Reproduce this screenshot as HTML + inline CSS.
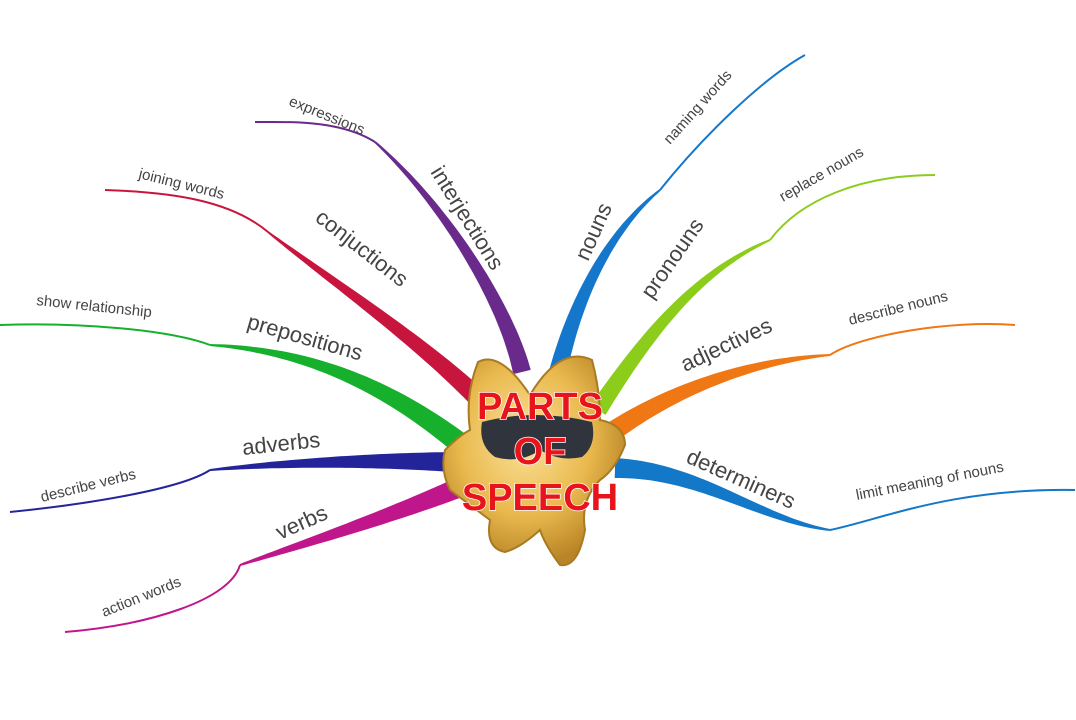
<!DOCTYPE html>
<html><head><meta charset="utf-8"><style>
html,body{margin:0;padding:0;background:#fff;width:1076px;height:720px;overflow:hidden}
svg text{font-family:"Liberation Sans",sans-serif;fill:#444}
</style></head><body>
<svg id="s" width="1076" height="720" viewBox="0 0 1076 720">
<defs>
<radialGradient id="g" cx="45%" cy="40%" r="60%"><stop offset="0" stop-color="#fbe39a"/><stop offset="0.6" stop-color="#e9b94e"/><stop offset="1" stop-color="#b98426"/></radialGradient>
</defs>
<g id="br"></g>
<g font-size="22">
<text transform="translate(430,172) rotate(58)">interjections</text>
<text transform="translate(314,220) rotate(38)">conjuctions</text>
<text transform="translate(246,328) rotate(16)">prepositions</text>
<text transform="translate(243,455) rotate(-6)">adverbs</text>
<text transform="translate(280,540) rotate(-24)">verbs</text>
<text transform="translate(588,262) rotate(-66)">nouns</text>
<text transform="translate(652,300) rotate(-55)">pronouns</text>
<text transform="translate(685,372) rotate(-25)">adjectives</text>
<text transform="translate(685,462) rotate(24)">determiners</text>
</g>
<g font-size="15">
<text transform="translate(288,105) rotate(22)">expressions</text>
<text transform="translate(138,178) rotate(14)">joining words</text>
<text transform="translate(36,305) rotate(6)">show relationship</text>
<text transform="translate(42,502) rotate(-14)">describe verbs</text>
<text transform="translate(104,617) rotate(-22)">action words</text>
<text transform="translate(670,145) rotate(-48)">naming words</text>
<text transform="translate(783,202) rotate(-30)">replace nouns</text>
<text transform="translate(850,325) rotate(-14)">describe nouns</text>
<text transform="translate(857,500) rotate(-11)">limit meaning of nouns</text>
</g>
<g>
<path d="M478,362 Q500,350 530,395 Q560,345 592,360 Q600,390 600,420 Q625,425 625,445 Q615,470 600,480 Q580,500 585,530 Q578,568 560,565 Q545,545 540,530 Q520,548 505,552 Q485,548 490,520 Q470,505 450,490 Q440,470 445,450 Q460,435 470,430 Q465,395 478,362 Z" fill="url(#g)" stroke="#a87a22" stroke-width="2"/>
<path d="M482,422 Q535,408 592,422 Q597,445 582,457 Q560,462 540,450 Q520,464 495,457 Q478,445 482,422 Z" fill="#30353d"/>
</g>
<g font-size="38" font-weight="bold" text-anchor="middle" style="stroke:#fff;stroke-width:1.5;paint-order:stroke">
<text x="540" y="419" style="fill:#e8141b">PARTS</text>
<text x="540" y="464" style="fill:#e8141b">OF</text>
<text x="540" y="510" style="fill:#e8141b">SPEECH</text>
</g>
</svg>
<script>
var B=[
["#6a2a8c",[[522,372],[505,300],[440,200],[375,142]],[[375,142],[340,120],[290,122],[255,122]],18],
["#c8153e",[[485,405],[420,340],[330,280],[268,232]],[[268,232],[230,200],[170,192],[105,190]],20],
["#16b02c",[[462,445],[380,380],[300,350],[210,345]],[[210,345],[170,330],[80,322],[0,325]],22],
["#24249a",[[452,462],[380,460],[290,462],[210,470]],[[210,470],[180,490],[80,505],[10,512]],20],
["#c0168c",[[458,488],[380,520],[300,545],[240,565]],[[240,565],[230,600],[150,625],[65,632]],20],
["#1577cc",[[558,372],[575,300],[610,230],[660,190]],[[660,190],[700,140],[760,80],[805,55]],18],
["#8ccc1a",[[598,410],[650,330],[700,270],[770,240]],[[770,240],[800,200],[860,175],[935,175]],18],
["#f07814",[[612,432],[680,385],[760,360],[830,355]],[[830,355],[860,335],[950,320],[1015,325]],20],
["#1478c8",[[615,468],[700,470],[760,520],[830,530]],[[830,530],[880,520],[950,488],[1075,490]],20]];
function bz(p,t){var u=1-t;return[u*u*u*p[0][0]+3*u*u*t*p[1][0]+3*u*t*t*p[2][0]+t*t*t*p[3][0],u*u*u*p[0][1]+3*u*u*t*p[1][1]+3*u*t*t*p[2][1]+t*t*t*p[3][1]];}
var g=document.getElementById('br'),h='';
B.forEach(function(b){var L=[],R=[],N=40;for(var i=0;i<=N;i++){var t=i/N,a=bz(b[1],Math.max(0,t-0.01)),c=bz(b[1],Math.min(1,t+0.01)),p=bz(b[1],t);var dx=c[0]-a[0],dy=c[1]-a[1],l=Math.hypot(dx,dy)||1;var w=(b[3]*(1-t)+2*t)/2;L.push((p[0]-dy/l*w).toFixed(1)+','+(p[1]+dx/l*w).toFixed(1));R.unshift((p[0]+dy/l*w).toFixed(1)+','+(p[1]-dx/l*w).toFixed(1));}
h+='<polygon fill="'+b[0]+'" points="'+L.concat(R).join(' ')+'"/>';
var q=b[2];h+='<path fill="none" stroke="'+b[0]+'" stroke-width="2" d="M'+q[0]+' C'+q[1]+' '+q[2]+' '+q[3]+'"/>';});
g.innerHTML=h;
</script>
</body></html>
